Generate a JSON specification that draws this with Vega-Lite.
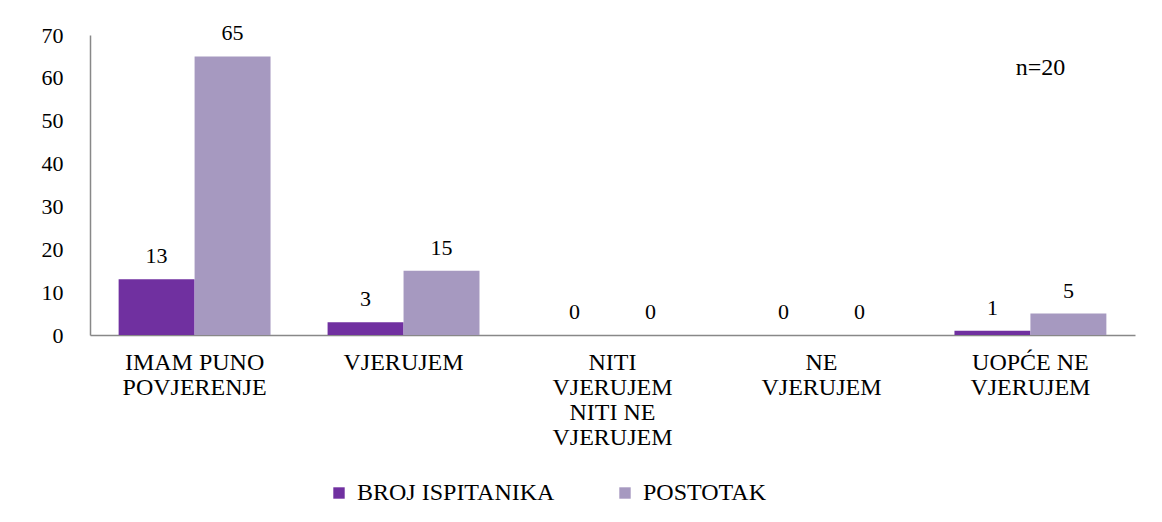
{
  "$schema": "https://vega.github.io/schema/vega-lite/v6.json",
  "width": 1045,
  "height": 300,
  "autosize": "none",
  "padding": {"left": 90, "top": 35, "right": 27, "bottom": 187},
  "background": "white",
  "config": {"view": {"stroke": null}, "font": "Times New Roman, Liberation Serif, serif", "axis": {"labelFont": "Times New Roman, Liberation Serif, serif"}, "legend": {"labelFont": "Times New Roman, Liberation Serif, serif"}, "text": {"font": "Times New Roman, Liberation Serif, serif"}},
  "data": {"values": [
    {"category": "IMAM PUNO POVJERENJE", "series": "BROJ ISPITANIKA", "value": 13},
    {"category": "IMAM PUNO POVJERENJE", "series": "POSTOTAK", "value": 65},
    {"category": "VJERUJEM", "series": "BROJ ISPITANIKA", "value": 3},
    {"category": "VJERUJEM", "series": "POSTOTAK", "value": 15},
    {"category": "NITI VJERUJEM NITI NE VJERUJEM", "series": "BROJ ISPITANIKA", "value": 0},
    {"category": "NITI VJERUJEM NITI NE VJERUJEM", "series": "POSTOTAK", "value": 0},
    {"category": "NE VJERUJEM", "series": "BROJ ISPITANIKA", "value": 0},
    {"category": "NE VJERUJEM", "series": "POSTOTAK", "value": 0},
    {"category": "UOPĆE NE VJERUJEM", "series": "BROJ ISPITANIKA", "value": 1},
    {"category": "UOPĆE NE VJERUJEM", "series": "POSTOTAK", "value": 5}
  ]},
  "layer": [
    {
      "mark": {"type": "bar"},
      "encoding": {
        "x": {
          "field": "category", "type": "nominal",
          "scale": {"domain": ["IMAM PUNO POVJERENJE", "VJERUJEM", "NITI VJERUJEM NITI NE VJERUJEM", "NE VJERUJEM", "UOPĆE NE VJERUJEM"], "paddingInner": 0.273, "paddingOuter": 0.137},
          "axis": {
            "title": null, "labelAngle": 0, "ticks": false, "labelPadding": 15,
            "labelFontSize": 24, "labelLineHeight": 25, "labelColor": "black",
            "domainColor": "#888888", "domainWidth": 1.5, "labelBaseline": "top", "labelLimit": 400,
            "labelExpr": "datum.label == 'IMAM PUNO POVJERENJE' ? ['IMAM PUNO', 'POVJERENJE'] : datum.label == 'NITI VJERUJEM NITI NE VJERUJEM' ? ['NITI', 'VJERUJEM', 'NITI NE', 'VJERUJEM'] : datum.label == 'NE VJERUJEM' ? ['NE', 'VJERUJEM'] : datum.label == 'UOPĆE NE VJERUJEM' ? ['UOPĆE NE', 'VJERUJEM'] : datum.label"
          }
        },
        "xOffset": {"field": "series", "type": "nominal", "scale": {"domain": ["BROJ ISPITANIKA", "POSTOTAK"], "paddingInner": 0, "paddingOuter": 0}},
        "y": {
          "field": "value", "type": "quantitative",
          "scale": {"domain": [0, 70], "nice": false},
          "axis": {
            "title": null, "values": [0, 10, 20, 30, 40, 50, 60, 70], "grid": false, "ticks": false,
            "labelPadding": 27, "labelFontSize": 22, "labelColor": "black",
            "domainColor": "#888888", "domainWidth": 1.5
          }
        },
        "color": {
          "field": "series", "type": "nominal",
          "scale": {"domain": ["BROJ ISPITANIKA", "POSTOTAK"], "range": ["#7030A0", "#A699C0"]},
          "legend": {
            "title": null, "orient": "none", "direction": "horizontal", "legendX": 237, "legendY": 446,
            "symbolType": "square", "symbolSize": 130, "symbolStrokeWidth": 0,
            "labelFontSize": 24, "labelColor": "black",
            "labelOffset": 6, "columnPadding": 58, "labelLimit": 400
          }
        }
      }
    },
    {
      "mark": {"type": "text", "baseline": "bottom", "dy": -11, "fontSize": 22, "color": "black"},
      "encoding": {
        "x": {"field": "category", "type": "nominal"},
        "xOffset": {"field": "series", "type": "nominal"},
        "y": {"field": "value", "type": "quantitative"},
        "text": {"field": "value", "type": "quantitative"}
      }
    },
    {
      "data": {"values": [{"category": "UOPĆE NE VJERUJEM", "value": 62.3, "note": "n=20"}]},
      "mark": {"type": "text", "baseline": "middle", "dx": 10, "fontSize": 24, "color": "black"},
      "encoding": {
        "x": {"field": "category", "type": "nominal"},
        "y": {"field": "value", "type": "quantitative"},
        "text": {"field": "note", "type": "nominal"}
      }
    }
  ]
}
